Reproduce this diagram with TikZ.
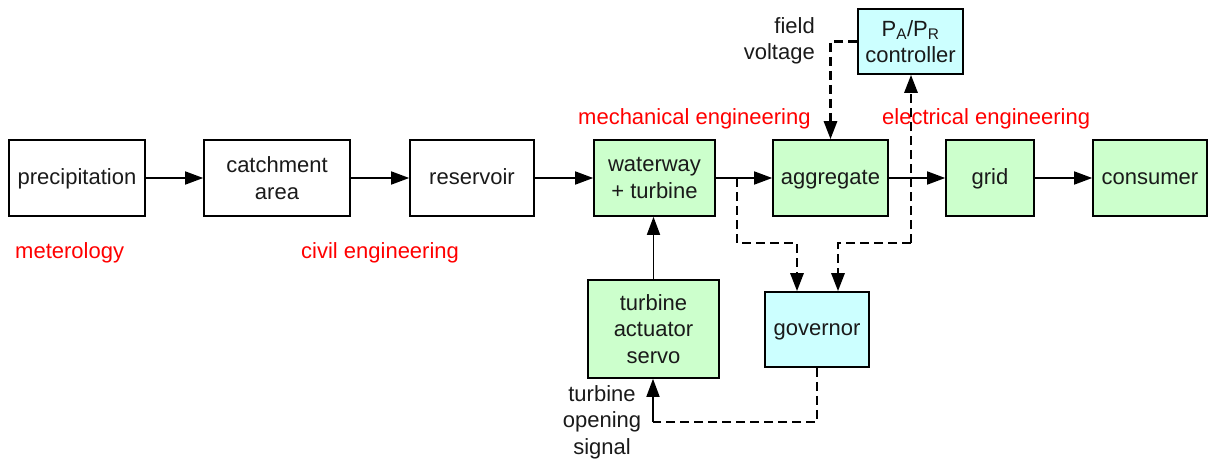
\documentclass[tikz,border=0pt]{standalone}
\usepackage{fontspec}
\setmainfont{Liberation Sans}
\usetikzlibrary{arrows.meta}
\definecolor{boxgreen}{HTML}{CCFFCC}
\definecolor{boxcyan}{HTML}{CCFFFF}
\definecolor{txt}{HTML}{1A1A1A}
\begin{document}
\begin{tikzpicture}[x=1pt,y=-1pt,
  every node/.style={font=\fontsize{22}{26.5}\selectfont, text=txt},
  box/.style={draw=black, line width=1.6pt, inner sep=0pt, align=center},
  one/.style={text height=17.5pt, text depth=5pt},
  wbox/.style={box, fill=white},
  gbox/.style={box, fill=boxgreen},
  cbox/.style={box, fill=boxcyan},
  tip/.style={-{Triangle[length=18pt,width=13pt]}},
  arr/.style={line width=1.6pt, draw=black, tip},
  dsh/.style={line width=2.8pt, draw=black, dash pattern=on 9pt off 5pt},
  darr/.style={dsh, tip},
  lbl/.style={text=red, inner sep=0pt, anchor=base west},
  note/.style={inner sep=0pt},
]
\useasboundingbox (0,0) rectangle (1208,461);

% boxes
\node[wbox, one, minimum width=136pt, minimum height=76pt] (prec) at (77,178) {precipitation};
\node[wbox, minimum width=146pt, minimum height=76pt] (catch) at (277,178) {catchment\\area};
\node[wbox, one, minimum width=124pt, minimum height=76pt] (res) at (472,178) {reservoir};
\node[gbox, minimum width=121pt, minimum height=76pt] (ww) at (654.5,178) {waterway\\+ turbine};
\node[gbox, one, minimum width=115pt, minimum height=76pt] (agg) at (830.5,178) {aggregate};
\node[gbox, one, minimum width=88pt, minimum height=76pt] (grid) at (990,178) {grid};
\node[gbox, one, minimum width=114pt, minimum height=76pt] (cons) at (1150,178) {consumer};
\node[cbox, minimum width=105pt, minimum height=65pt] (ctrl) at (910.5,41.5) {P\textsubscript{A}/P\textsubscript{R}\\controller};
\node[cbox, one, minimum width=104pt, minimum height=75pt] (gov) at (817,329.5) {governor};
\node[gbox, minimum width=131pt, minimum height=98pt] (serv) at (653.5,329) {turbine\\actuator\\servo};

% labels
\node[lbl] (l1) at (15,258) {meterology};
\node[lbl] (l2) at (301,258) {civil engineering};
\node[lbl] (l3) at (578,124) {mechanical engineering};
\node[lbl] (l4) at (882,124) {electrical engineering};
\node[note, align=right, anchor=east] (fv) at (815,41) {field\\voltage};
\node[note, align=center] (tos) at (602,422) {turbine\\opening\\signal};

% main chain
\draw[arr] (prec) -- (catch);
\draw[arr] (catch) -- (res);
\draw[arr] (res) -- (ww);
\draw[arr] (ww) -- (agg);
\draw[arr] (agg) -- (grid);
\draw[arr] (grid) -- (cons);
\draw[arr] (serv.north) -- (serv.north |- ww.south);

% dashed signals
\coordinate (b1) at (737,178);
\coordinate (b2) at (737,243);
\draw[darr] (b1) -- (b2) -| ([xshift=-20pt]gov.north);
\coordinate (j) at (911,243);
\draw[darr] (j) -- (j |- ctrl.south);
\draw[darr] (j) -| ([xshift=21pt]gov.north);
\draw[darr] (ctrl.west) -| (agg.north);
\coordinate (k) at (653,422);
\draw[dsh] (gov.south) |- (k);
\draw[arr] (k) -- (k |- serv.south);
\end{tikzpicture}
\end{document}
